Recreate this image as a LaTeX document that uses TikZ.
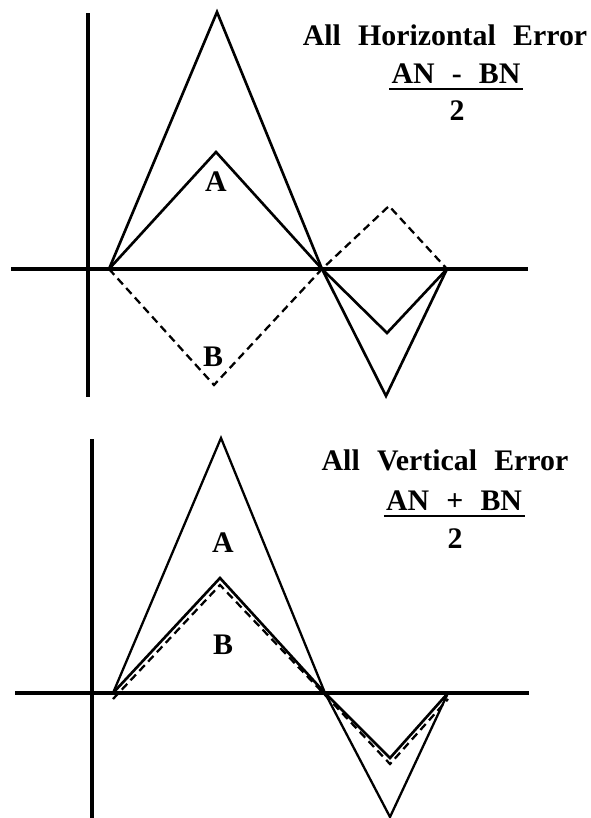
\documentclass[tikz,border=0pt]{standalone}
\usepackage{fontspec}
\setmainfont[WordSpace=2.3]{Liberation Serif}
\usepackage{tikz}

\tikzset{
  axis/.style={line width=2.3pt},
  errA/.style={line width=1.5pt,line join=miter},
  errB/.style={line width=1.3pt,dash pattern=on 4.5pt off 2.8pt,line join=miter},
  lbl/.style={font=\rmfamily\fontsize{17}{20}\selectfont\bfseries,inner sep=0pt},
}

\begin{document}
\begin{tikzpicture}[x=0.02cm,y=-0.02cm]
\useasboundingbox (0,0) rectangle (591,818);
% top panel
\coordinate (ya) at (88,13); \coordinate (yb) at (88,397);
\coordinate (xa) at (11,269); \coordinate (xb) at (528,269);
\coordinate (P0) at (109,269); \coordinate (P1) at (322,269); \coordinate (P2) at (447,269);
\coordinate (Ab) at (217,12); \coordinate (Av) at (386,396);
\coordinate (As) at (216,152); \coordinate (Asv) at (387,333);
\coordinate (Bs) at (214,385); \coordinate (Bsv) at (389,206);
\draw[axis] (ya) -- (yb);
\draw[axis] (xa) -- (xb);
\draw[errA] (P0) -- (Ab) -- (P1) -- (Av) -- (P2);
\draw[errA] (P0) -- (As) -- (P1) -- (Asv) -- (P2);
\draw[errB] (P0) -- (Bs) -- (P1) -- (Bsv) -- (P2);
\node[lbl] (a1) at (216,182) {A};
\node[lbl] (b1) at (213,357) {B};
\node[lbl,anchor=base] (t1) at (445,45) {All Horizontal Error};
\node[lbl,anchor=base] (n1) at (456,83) {AN - BN};
\draw[line width=1.6pt] ([shift={(-1pt,-3.4pt)}]n1.base west) -- ([shift={(1.5pt,-3.4pt)}]n1.base east);
\node[lbl,anchor=base] (d1) at (457,120) {2};
% bottom panel
\coordinate (yc) at (92,439); \coordinate (yd) at (92,818);
\coordinate (xc) at (15,693); \coordinate (xd) at (529,693);
\coordinate (Q0) at (113,693); \coordinate (Q1) at (325,693); \coordinate (Q2) at (448,693);
\coordinate (Cb) at (221,438); \coordinate (Cv) at (390,817);
\coordinate (Cs) at (220,578); \coordinate (Csv) at (390,758);
\coordinate (D0) at (113,699); \coordinate (Ds) at (220,585); \coordinate (D1) at (327,697);
\coordinate (Dsv) at (390,764); \coordinate (D2) at (448,699);
\draw[axis] (yc) -- (yd);
\draw[axis] (xc) -- (xd);
\draw[errA,line width=1.3pt] (Q0) -- (Cb) -- (Q1) -- (Cv) -- (Q2);
\draw[errA] (Q0) -- (Cs) -- (Q1) -- (Csv) -- (Q2);
\draw[errB] (D0) -- (Ds) -- (D1) -- (Dsv) -- (D2);
\node[lbl] (a2) at (223,543) {A};
\node[lbl] (b2) at (223,645) {B};
\node[lbl,anchor=base] (t2) at (445,470) {All Vertical Error};
\node[lbl,anchor=base] (n2) at (454,510) {AN + BN};
\draw[line width=1.6pt] ([shift={(-1pt,-3.4pt)}]n2.base west) -- ([shift={(1.5pt,-3.4pt)}]n2.base east);
\node[lbl,anchor=base] (d2) at (455,548) {2};
\end{tikzpicture}
\end{document}
